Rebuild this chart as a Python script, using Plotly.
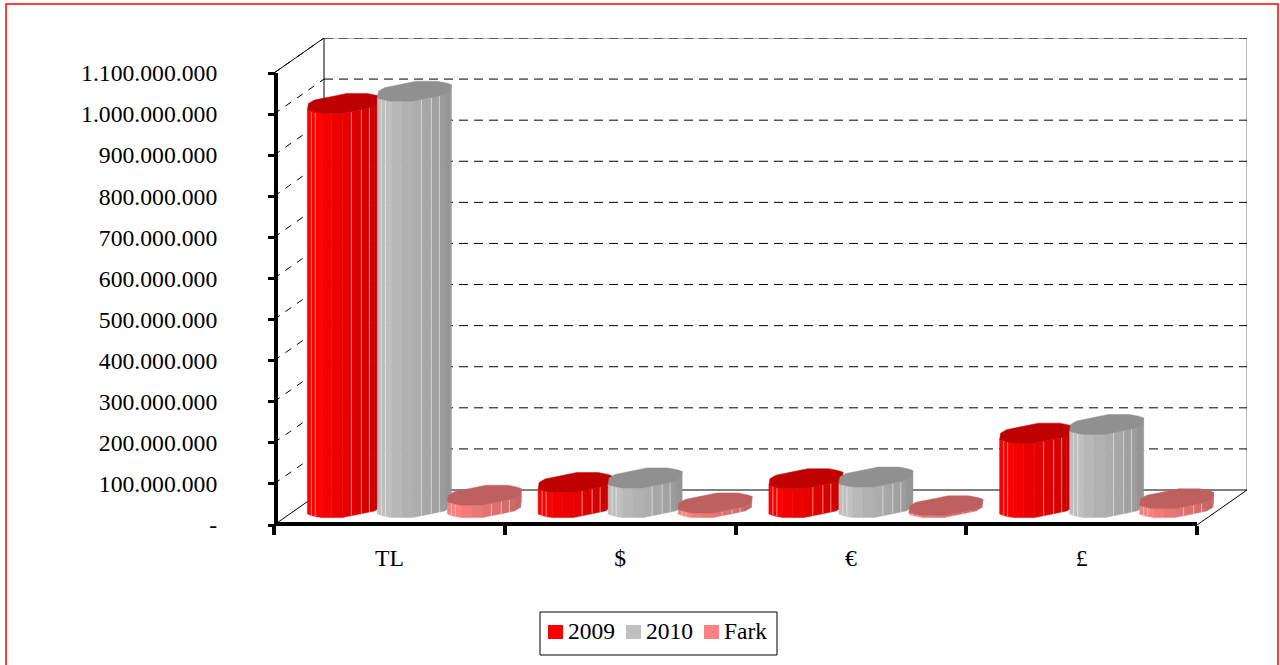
"""Excel-style 3D cylinder chart, 2009 vs 2010 by currency, drawn on plain cartesian axes."""

import numpy as np
import plotly.graph_objects as go

categories = ["TL", "$", "€", "£"]
series_names = ["2009", "2010", "Fark"]
values_2009 = [983e6, 61e6, 70e6, 181e6]
values_2010 = [1013e6, 72e6, 74e6, 202e6]
values_fark = [30e6, 11e6, 4e6, 21e6]
tick_values = [i * 100_000_000 for i in range(12)]

_FONT = "Liberation Serif"
_COLORS = [(255, 0, 0), (192, 192, 192), (255, 128, 128)]
_FULL_W, _FULL_H = 1280, 665

# oblique projection: the floor runs back by this much, in axis units
_PX_PER_CAT = 923 / 4
_PX_PER_VAL = 452 / 1.1e9
DEPTH_X = 50 / _PX_PER_CAT
DEPTH_Y = 35 / _PX_PER_VAL
TOP = 1.1e9
X_MAX = 4 + DEPTH_X
Y_MAX = TOP + DEPTH_Y
STEP = 70 / _PX_PER_CAT

# front half of the cylinder footprint as Excel draws it, px from its centre
_ARC_PX = np.array([
    (-37, -6.5), (-33, -8), (-29, -9), (-23, -10), (-13, -10), (-2, -10),
    (7, -8.2), (17, -6.2), (25, -4.5), (30, -3.5), (36, 0), (37, 6.5),
])
ARC_X = _ARC_PX[:, 0] / _PX_PER_CAT
ARC_Y = _ARC_PX[:, 1] / _PX_PER_VAL
SHADES = [0.99, 0.99, 1.0, 0.96, 0.92, 0.9, 0.87, 0.84, 0.81, 0.78, 0.76]
SEAMS = [1, 2, 6, 7, 8]
TOP_SHADE = 0.75


def _rgb(color, shade):
    return "rgb({},{},{})".format(*(round(c * shade) for c in color))


def _px(x, y):
    return x / _FULL_W, 1 - y / _FULL_H


def _line(xs, ys, color, width=1, dash=None):
    return go.Scatter(
        x=xs, y=ys, mode="lines", showlegend=False, hoverinfo="skip",
        line=dict(color=color, width=width, dash=dash),
    )


def _poly(xs, ys, color):
    return go.Scatter(
        x=xs, y=ys, mode="lines", fill="toself", fillcolor=color, showlegend=False,
        hoverinfo="skip", line=dict(width=0.5, color=color),
    )


def add_walls(fig):
    side_x, side_y, back_x, back_y = [], [], [], []
    for v in tick_values[1:]:
        side_x += [0, DEPTH_X, None]
        side_y += [v, v + DEPTH_Y, None]
        back_x += [DEPTH_X, X_MAX, None]
        back_y += [v + DEPTH_Y, v + DEPTH_Y, None]
    fig.add_trace(_line(side_x, side_y, "#000000", 1, "7px,7px"))
    fig.add_trace(_line([DEPTH_X, X_MAX, X_MAX], [Y_MAX, Y_MAX, DEPTH_Y], "#777777"))
    fig.add_trace(_line(back_x, back_y, "#000000", 1, "9px,6px"))
    # floor and left wall outline
    fig.add_trace(_line(
        [0, DEPTH_X, X_MAX, 4, None, 0, DEPTH_X, DEPTH_X],
        [0, DEPTH_Y, DEPTH_Y, 0, None, TOP, Y_MAX, DEPTH_Y],
        "#000000",
    ))


def add_cylinder(fig, cx, value, color, name):
    xs = cx + ARC_X
    ys = DEPTH_Y / 2 + ARC_Y
    for i, shade in enumerate(SHADES):
        fig.add_trace(_poly(
            [xs[i], xs[i + 1], xs[i + 1], xs[i], xs[i]],
            [ys[i], ys[i + 1], ys[i + 1] + value, ys[i] + value, ys[i]],
            _rgb(color, shade),
        ))
    seam_x, seam_y = [], []
    for k in SEAMS:
        seam_x += [xs[k], xs[k], None]
        seam_y += [ys[k], ys[k] + value, None]
    fig.add_trace(_line(seam_x, seam_y, "rgba(255,255,255,0.5)", 1))
    # top face: the arc plus its mirror through the centre
    ring_x = np.concatenate([xs, cx - ARC_X, xs[:1]])
    ring_y = np.concatenate([ys, DEPTH_Y / 2 - ARC_Y, ys[:1]]) + value
    top = _poly(ring_x, ring_y, _rgb(color, TOP_SHADE))
    top.name = name
    fig.add_trace(top)


fig = go.Figure()
add_walls(fig)

all_values = [values_2009, values_2010, values_fark]
for c in range(len(categories)):
    for s, vals in enumerate(all_values):
        add_cylinder(fig, c + 0.5 + DEPTH_X / 2 + (s - 1) * STEP, vals[c], _COLORS[s], series_names[s])

# empty trace so the front-plane axes x2/y2 get drawn
fig.add_trace(go.Scatter(x=[None], y=[None], xaxis="x2", yaxis="y2", showlegend=False))

# outer frame, its bottom edge falls off the page
x0, y1 = _px(6, 4)
x1, y0 = _px(1278, 680)
fig.add_shape(type="rect", xref="paper", yref="paper", layer="below",
              x0=x0, x1=x1, y0=y0, y1=y1, line=dict(color="#FF0000", width=1.5))

# legend box: the native one keeps too wide a gap between swatch and text
x0, y1 = _px(540, 612)
x1, y0 = _px(777, 655)
fig.add_shape(type="rect", xref="paper", yref="paper", fillcolor="white",
              x0=x0, x1=x1, y0=y0, y1=y1, line=dict(color="black", width=1))
for i, (name, color) in enumerate(zip(series_names, _COLORS)):
    x0, y1 = _px(548 + 78 * i, 625)
    x1, y0 = _px(563 + 78 * i, 639)
    fig.add_shape(type="rect", xref="paper", yref="paper", fillcolor=_rgb(color, 1),
                  x0=x0, x1=x1, y0=y0, y1=y1, line=dict(width=0))
    tx, ty = _px(568 + 78 * i, 631)
    fig.add_annotation(text=name, xref="paper", yref="paper", x=tx, y=ty, xanchor="left",
                       yanchor="middle", showarrow=False, borderpad=0, xshift=-1,
                       font=dict(family=_FONT, size=23.5, color="black"))

fig.update_layout(
    width=_FULL_W,
    height=_FULL_H,
    margin=dict(l=0, r=0, t=0, b=0, autoexpand=False),
    paper_bgcolor="white",
    plot_bgcolor="rgba(0,0,0,0)",
    font=dict(family=_FONT, size=23.7, color="black"),
    showlegend=False,
    # full box including the depth, holds the marks
    xaxis=dict(domain=[274 / _FULL_W, 1247 / _FULL_W], range=[0, X_MAX], visible=False),
    yaxis=dict(domain=[1 - 525 / _FULL_H, 1 - 38 / _FULL_H], range=[0, Y_MAX], visible=False),
    # front plane, holds the thick lines, ticks and labels
    xaxis2=dict(
        domain=[274 / _FULL_W, 1197 / _FULL_W],
        range=[0, 4],
        anchor="free",
        position=1 - 524 / _FULL_H,
        showline=True,
        linewidth=4,
        linecolor="black",
        tickmode="array",
        tickvals=[i + 0.5 for i in range(len(categories))],
        ticktext=categories,
        ticks="",
        showgrid=False,
        zeroline=False,
        ticklabelstandoff=12,
        minor=dict(
            tickmode="array", tickvals=list(range(5)), ticks="outside",
            ticklen=9, tickwidth=3.5, tickcolor="black", showgrid=False,
        ),
    ),
    yaxis2=dict(
        domain=[1 - 525 / _FULL_H, 1 - 73 / _FULL_H],
        range=[0, TOP],
        anchor="free",
        position=276 / _FULL_W,
        showline=True,
        linewidth=4,
        linecolor="black",
        tickmode="array",
        tickvals=tick_values,
        ticktext=[f"{v:,}".replace(",", ".") if v else "-" for v in tick_values],
        ticks="outside",
        ticklen=6,
        tickwidth=3,
        tickcolor="black",
        showgrid=False,
        zeroline=False,
        ticklabelstandoff=46,
    ),
)

fig.write_html("out.html", config={"displayModeBar": False},
               post_script="document.body.style.margin='0';")
